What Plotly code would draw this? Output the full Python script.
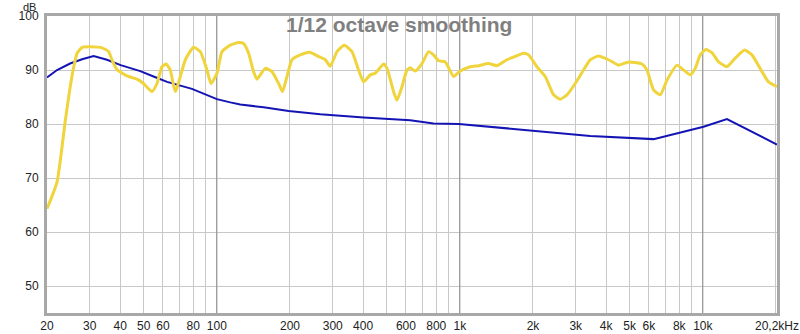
import plotly.graph_objects as go
import math

# ---- data ----
yellow_freq = [20, 22.0, 23.8, 24.8, 25.7, 26.6, 27.9, 30.2, 33.7, 35.9, 37.0, 38.8, 42.7, 46.9,
               49.9, 54.1, 56.7, 59.5, 61.9, 64.3, 67.5, 74.2, 80.2, 85.5, 91.1, 94.6, 100.1,
               105, 113.6, 122.9, 128.8, 135.1, 141.7, 146.3, 158.3, 168.6, 179.6, 186.5, 194.4,
               203.8, 220.5, 240.8, 262.3, 279.4, 293.0, 312.2, 334.6, 359.8, 383.1, 401.8,
               428.1, 448.7, 485.7, 501.6, 533.8, 551.2, 578.0, 606.1, 625.4, 655.4, 698.6,
               743.7, 779.6, 817.5, 871.1, 942.6, 1004, 1104, 1194, 1313, 1422, 1563, 1691,
               1829, 1918, 2078, 2247, 2432, 2590, 2760, 2985, 3230, 3443, 3724, 4094, 4501,
               4947, 5618, 5890, 6271, 6684, 7118, 7827, 8333, 8879, 9309, 9761, 10301, 10904,
               11610, 12573, 13598, 14854, 15927, 17514, 18642, 20190]
yellow_db = [64.3, 69.3, 80.7, 86.3, 90.3, 93.1, 94.2, 94.3, 94.1, 93.4, 91.9, 90.1, 88.9, 88.3,
             87.5, 86.0, 87.5, 90.6, 91.1, 90.0, 86.0, 91.9, 94.2, 93.4, 90.0, 87.5, 89.4,
             93.4, 94.6, 95.1, 94.9, 93.1, 89.7, 88.3, 90.3, 89.7, 87.5, 86.0, 88.8,
             91.9, 92.8, 93.3, 92.5, 91.9, 90.7, 93.4, 94.6, 93.4, 90.0, 87.8,
             89.1, 89.4, 91.1, 90.3, 86.0, 84.4, 86.9, 90.0, 90.4, 89.8, 91.2,
             93.4, 92.8, 91.7, 91.5, 88.8, 89.8, 90.6, 90.8, 91.2, 90.8, 91.9, 92.5,
             93.1, 92.8, 90.6, 88.8, 85.4, 84.6, 85.4, 87.5, 90.0, 91.9, 92.6, 91.9, 90.9,
             91.5, 91.1, 90.0, 86.3, 85.4, 88.1, 90.9, 90.0, 89.1, 90.3, 92.8, 93.8, 93.2,
             91.5, 90.6, 92.2, 93.7, 92.8, 89.7, 87.8, 86.9]

blue_freq = [20, 22, 24.9, 27.9, 31.1, 35.3, 40.2, 48.4, 54.9, 62.4, 79.0, 91.1, 100, 113.6,
             124.9, 155.8, 197.4, 266.6, 401.8, 625, 779.6, 990, 1467, 2011, 3443, 6271,
             10070, 12573, 20190]
blue_db = [88.6, 90.0, 91.2, 92.0, 92.6, 91.9, 90.9, 89.8, 88.8, 87.8, 86.5, 85.4, 84.6, 84.0,
           83.6, 83.1, 82.4, 81.8, 81.2, 80.7, 80.1, 80.0, 79.3, 78.7, 77.8, 77.2,
           79.5, 80.9, 76.2]

grid_freqs = [20, 30, 40, 50, 60, 70, 80, 90, 100, 200, 300, 400, 500, 600, 700, 800, 900,
              1000, 2000, 3000, 4000, 5000, 6000, 7000, 8000, 9000, 10000, 20000]
grid_labels = ["20", "30", "40", "50", "60", "", "80", "", "100", "200", "300", "400", "",
               "600", "", "800", "", "1k", "2k", "3k", "4k", "5k", "6k", "", "8k", "", "10k", ""]
end_freq = 20200
end_label = "20,2kHz"
major_freqs = [100, 1000, 10000]
y_ticks = [50, 60, 70, 80, 90, 100]
title_text = "1/12 octave smoothing"

fig = go.Figure()

# darker decade grid lines
mx, my = [], []
for f in major_freqs:
    mx += [f, f, None]
    my += [45, 100, None]
fig.add_trace(go.Scatter(x=mx, y=my, mode="lines", line=dict(color="#8a8a8a", width=1),
                         hoverinfo="skip", showlegend=False))

fig.add_trace(go.Scatter(x=blue_freq, y=blue_db, mode="lines",
                         line=dict(color="#1414b4", width=2), showlegend=False))
fig.add_trace(go.Scatter(x=yellow_freq, y=yellow_db, mode="lines",
                         line=dict(color="#f0d43c", width=3, shape="spline", smoothing=0.5),
                         showlegend=False))

fig.update_layout(
    width=800, height=334,
    margin=dict(l=47, r=23, t=16, b=21),
    paper_bgcolor="white", plot_bgcolor="white",
    font=dict(family="Liberation Sans, Arial, sans-serif", size=12, color="#222222"),
    xaxis=dict(type="log", range=[math.log10(20), math.log10(end_freq)],
               tickvals=grid_freqs + [end_freq], ticktext=grid_labels + [end_label],
               showgrid=True, gridcolor="#c8c8c8", gridwidth=1, automargin=False,
               showline=True, linecolor="#a8a8a8", linewidth=3, mirror=True,
               ticks="", zeroline=False, tickfont=dict(size=12)),
    yaxis=dict(range=[45, 100], tickvals=y_ticks, automargin=False,
               showgrid=True, gridcolor="#c8c8c8", gridwidth=1,
               showline=True, linecolor="#a8a8a8", linewidth=3, mirror=True,
               ticks="", zeroline=False, tickfont=dict(size=12), ticklabelstandoff=3),
    annotations=[
        dict(text=title_text, xref="paper", yref="paper", x=0.4826, y=0.973,
             xanchor="center", yanchor="middle", showarrow=False,
             font=dict(size=21, color="#808080", family="Liberation Sans, Arial, sans-serif",
                       weight="bold")),
        dict(text="dB", xref="paper", yref="paper", x=-0.012, y=1.031,
             xanchor="right", yanchor="middle", showarrow=False,
             font=dict(size=11, color="#222222")),
    ],
)

fig.write_html("out.html", config={"displayModeBar": False},
               post_script="document.body.style.margin='0';document.body.style.overflow='hidden';")
